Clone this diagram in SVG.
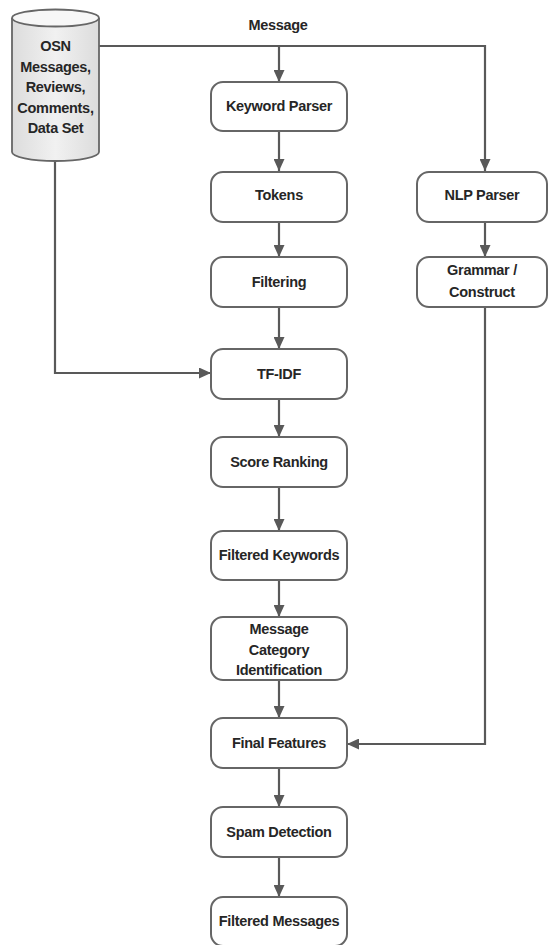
<svg xmlns="http://www.w3.org/2000/svg" width="549" height="945" viewBox="0 0 549 945">
<style>
.box{fill:#ffffff;stroke:#666666;stroke-width:2}
.cyl{fill:url(#cylg);stroke:#666666;stroke-width:1.8}
.top{fill:#f7f7f7;stroke:#666666;stroke-width:1.8}
.t{font-family:"Liberation Sans",Arial,sans-serif;font-size:14.5px;font-weight:bold;fill:#262626;text-anchor:middle;letter-spacing:-0.3px}
.c{fill:none;stroke:#595959;stroke-width:2.2}
.a{marker-end:url(#ah)}
</style>
<defs>
<linearGradient id="cylg" x1="0" y1="0" x2="1" y2="0">
<stop offset="0" stop-color="#dcdcdc"/>
<stop offset="0.5" stop-color="#f1f1f1"/>
<stop offset="1" stop-color="#dcdcdc"/>
</linearGradient>
<marker id="ah" markerUnits="userSpaceOnUse" markerWidth="12" markerHeight="11" refX="12" refY="5.5" orient="auto">
<path d="M0,0 L12,5.5 L0,11 Z" fill="#595959"/>
</marker>
</defs>
<g id="connectors">
<path class="c a" d="M99,46 H485 V171"/>
<path class="c a" d="M279,46 V82"/>
<path class="c a" d="M279,131 V171"/>
<path class="c a" d="M279,222 V257"/>
<path class="c a" d="M279,307 V349"/>
<path class="c a" d="M279,399 V437"/>
<path class="c a" d="M279,487 V531"/>
<path class="c a" d="M279,580 V617"/>
<path class="c a" d="M279,680 V718"/>
<path class="c a" d="M279,768 V807"/>
<path class="c a" d="M279,857 V897"/>
<path class="c a" d="M485,222 V257"/>
<path class="c a" d="M485,307 V744 H347"/>
<path class="c a" d="M55,161 V373 H211"/>
</g>
<text class="t" x="278" y="30">Message</text>
<g id="osn">
<path class="cyl" d="M12,18 V152 A43.5,9 0 0 0 99,152 V18"/>
<ellipse class="top" cx="55.5" cy="18" rx="43.5" ry="8.5"/>
<text class="t" x="55.5" y="51">OSN</text>
<text class="t" x="55.5" y="71.5">Messages,</text>
<text class="t" x="55.5" y="92">Reviews,</text>
<text class="t" x="55.5" y="112.5">Comments,</text>
<text class="t" x="55.5" y="133">Data Set</text>
</g>
<g id="keyword-parser"><rect class="box" x="211" y="82" width="136" height="49" rx="12"/><text class="t" x="279" y="111">Keyword Parser</text></g>
<g id="tokens"><rect class="box" x="211" y="172" width="136" height="50" rx="12"/><text class="t" x="279" y="200">Tokens</text></g>
<g id="nlp-parser"><rect class="box" x="417" y="172" width="130" height="50" rx="12"/><text class="t" x="482" y="200">NLP Parser</text></g>
<g id="filtering"><rect class="box" x="211" y="257" width="136" height="50" rx="12"/><text class="t" x="279" y="287">Filtering</text></g>
<g id="grammar"><rect class="box" x="417" y="257" width="130" height="50" rx="12"/><text class="t" x="482" y="275">Grammar /</text><text class="t" x="482" y="297">Construct</text></g>
<g id="tf-idf"><rect class="box" x="211" y="349" width="136" height="50" rx="12"/><text class="t" x="279" y="379">TF-IDF</text></g>
<g id="score-ranking"><rect class="box" x="211" y="437" width="136" height="50" rx="12"/><text class="t" x="279" y="467">Score Ranking</text></g>
<g id="filtered-keywords"><rect class="box" x="211" y="531" width="136" height="49" rx="12"/><text class="t" x="279" y="560">Filtered Keywords</text></g>
<g id="message-category"><rect class="box" x="211" y="617" width="136" height="63" rx="12"/><text class="t" x="279" y="634">Message</text><text class="t" x="279" y="654.5">Category</text><text class="t" x="279" y="675">Identification</text></g>
<g id="final-features"><rect class="box" x="211" y="718" width="136" height="50" rx="12"/><text class="t" x="279" y="748">Final Features</text></g>
<g id="spam-detection"><rect class="box" x="211" y="807" width="136" height="50" rx="12"/><text class="t" x="279" y="837">Spam Detection</text></g>
<g id="filtered-messages"><rect class="box" x="211" y="897" width="136" height="49" rx="12"/><text class="t" x="279" y="926">Filtered Messages</text></g>
</svg>
